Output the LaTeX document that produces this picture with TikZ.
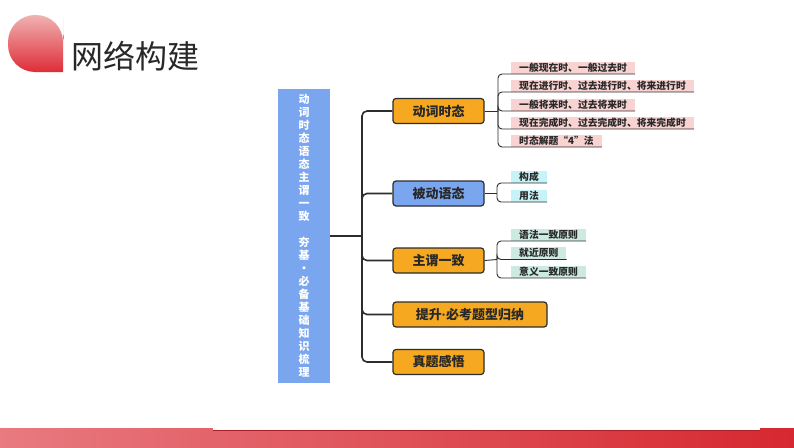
\documentclass[tikz,border=0pt]{standalone}
\usepackage{fontspec}
\setmainfont{Noto Sans CJK SC}
\newfontfamily\latinfont{Liberation Sans}
\usetikzlibrary{positioning}

\definecolor{trunkblue}{RGB}{122,166,240}
\definecolor{boxorange}{RGB}{245,168,32}
\definecolor{boxblue}{RGB}{122,166,240}
\definecolor{itempink}{RGB}{249,210,210}
\definecolor{itemcyan}{RGB}{198,243,248}
\definecolor{itemteal}{RGB}{204,234,226}
\definecolor{linegray}{RGB}{45,45,45}
\definecolor{titlegray}{RGB}{40,40,40}
\definecolor{barlight}{RGB}{232,122,128}
\definecolor{bardark}{RGB}{214,40,48}
\definecolor{droplight}{RGB}{240,178,178}
\definecolor{dropdark}{RGB}{222,45,55}

\begin{document}
\begin{tikzpicture}[x=1pt, y=-1pt]
			\tikzstyle{mainbox}  = [draw=linegray, line width=1.2pt, rounded corners=3pt, minimum width=91pt, minimum height=25pt, inner sep=0pt, font=\fontsize{13}{14}\selectfont\bfseries, text=titlegray]
			\tikzstyle{item}     = [anchor=south west, inner xsep=8pt, inner ysep=1.3pt, text height=8pt, text depth=1.5pt, font=\fontsize{9.8}{10}\selectfont\bfseries, text=titlegray]
			\tikzstyle{trunk}    = [draw=linegray, line width=1.6pt, rounded corners=5pt]
			\tikzstyle{twig}     = [draw=linegray, line width=0.9pt, rounded corners=4pt]

			\useasboundingbox (0,0) rectangle (794,447);
			\fill[white] (0,0) rectangle (794,447);

			% title
			\shade[top color=droplight, bottom color=dropdark] (63,72) -- (35,72) [rounded corners=27pt] -- (8,72) -- (8,15) -- (63,15) -- (63,45) [sharp corners] -- cycle;
			\node[anchor=west, inner sep=0pt, font=\fontsize{32}{34}\selectfont, text=titlegray] (title) at (71,56) {网络构建};

			% bottom bar
			\shade[left color=barlight, right color=bardark] (0,428) rectangle (794,447);
			\fill[white] (213,424) rectangle (760,430);
			\draw[bardark!80!black, line width=0.6pt] (213,430.3) -- (760,430.3);

			% root
			\node[fill=trunkblue, minimum width=52pt, minimum height=294pt, inner sep=0pt, align=center, text=white, font=\fontsize{11}{13}\selectfont\bfseries] (root) at (304,236)
				{动\\词\\时\\态\\语\\态\\主\\谓\\一\\致\\\mbox{}\\夯\\基\\·\\必\\备\\基\\础\\知\\识\\梳\\理};

			% main branches
			\node[mainbox, fill=boxorange] (tense)   at (438.5,111)   {动词时态};
			\node[mainbox, fill=boxblue]   (passive) at (438.5,193.5) {被动语态};
			\node[mainbox, fill=boxorange] (agree)   at (438.5,260.5) {主谓一致};
			\node[mainbox, fill=boxorange, minimum width=154pt] (exam) at (470,314.5) {提升{\latinfont\bfseries ·}必考题型归纳};
			\node[mainbox, fill=boxorange] (real)    at (438.5,362)   {真题感悟};

			\coordinate (t) at (362,236);
			\draw[trunk] (root.east) -- (t);
			\foreach \to in {tense, passive, agree, exam, real}
				\draw[trunk] (t) |- (\to.west);

			% leaves
			\foreach \name/\y/\txt in {a1/74/{一般现在时、一般过去时}, a2/92/{现在进行时、过去进行时、将来进行时}, a3/111/{一般将来时、过去将来时}, a4/129/{现在完成时、过去完成时、将来完成时}, a5/147/{时态解题“4”法}}
				\node[item, fill=itempink] (\name) at (511,\y) {\txt};

			\foreach \name/\y/\txt in {b1/183/{构成}, b2/202/{用法}}
				\node[item, fill=itemcyan] (\name) at (511,\y) {\txt};

			\foreach \name/\y/\txt in {c1/241/{语法一致原则}, c2/259.5/{就近原则}, c3/278/{意义一致原则}}
				\node[item, fill=itemteal] (\name) at (511,\y) {\txt};

			\coordinate (ja) at (498,111);
			\coordinate (jb) at (497,193.5);
			\coordinate (jc) at (497,259.5);

			\draw[twig] (tense.east) -- (ja);
			\draw[twig] (passive.east) -- (jb);
			\draw[twig] (agree.east) -- (jc);

			\foreach \j/\to in {ja/a1, ja/a2, ja/a3, ja/a4, ja/a5, jb/b1, jb/b2, jc/c1, jc/c2, jc/c3}
				\draw[twig] (\j) |- (\to.south east);
		\end{tikzpicture}
\end{document}
